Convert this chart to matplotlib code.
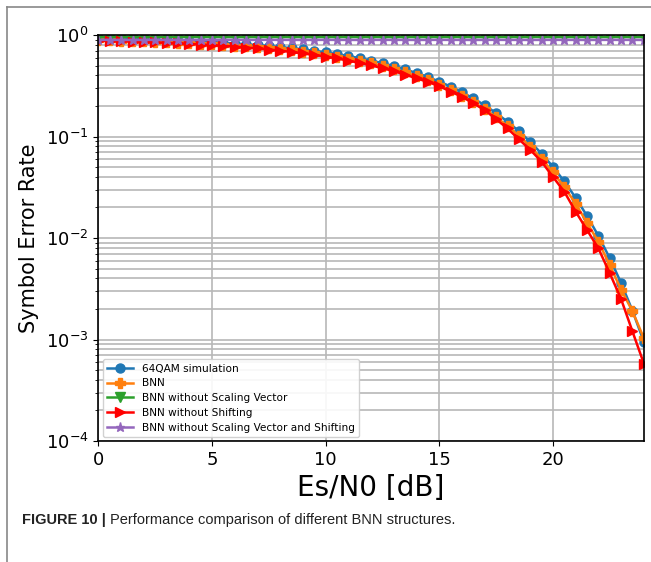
import matplotlib
matplotlib.use("Agg")
import matplotlib.pyplot as plt
from matplotlib.lines import Line2D
import numpy as np

# Es/N0 axis (dB)
snr_db = np.arange(0, 24.5, 0.5)

ser_sim = [0.924, 0.919, 0.913, 0.908, 0.901, 0.894, 0.887, 0.878, 0.869, 0.859,
           0.849, 0.837, 0.824, 0.810, 0.795, 0.778, 0.761, 0.741, 0.720, 0.698,
           0.674, 0.648, 0.621, 0.591, 0.560, 0.528, 0.494, 0.458, 0.422, 0.385,
           0.348, 0.310, 0.273, 0.237, 0.203, 0.170, 0.140, 0.113, 0.0886, 0.0678,
           0.0503, 0.0361, 0.0249, 0.0165, 0.0105, 0.00633, 0.00360, 0.00192, 0.00095]

ser_bnn = [0.890, 0.885, 0.880, 0.874, 0.867, 0.860, 0.852, 0.843, 0.834, 0.824,
           0.813, 0.801, 0.788, 0.774, 0.759, 0.742, 0.725, 0.705, 0.684, 0.662,
           0.638, 0.612, 0.585, 0.556, 0.526, 0.495, 0.462, 0.428, 0.393, 0.357,
           0.322, 0.286, 0.251, 0.218, 0.186, 0.155, 0.127, 0.102, 0.0795, 0.0605,
           0.0445, 0.0318, 0.0218, 0.0141, 0.0092, 0.0054, 0.0031, 0.0019, 0.00103]

ser_no_scale = [0.955, 0.955, 0.956, 0.955, 0.955, 0.954, 0.955, 0.955, 0.956, 0.955,
                0.955, 0.955, 0.954, 0.955, 0.955, 0.956, 0.955, 0.955, 0.955, 0.954,
                0.955, 0.955, 0.956, 0.955, 0.955, 0.955, 0.954, 0.955, 0.955, 0.956,
                0.955, 0.955, 0.955, 0.954, 0.955, 0.955, 0.956, 0.955, 0.955, 0.955,
                0.954, 0.955, 0.955, 0.956, 0.955, 0.955, 0.955, 0.954, 0.955]

ser_no_shift = [0.880, 0.874, 0.867, 0.861, 0.853, 0.845, 0.837, 0.827, 0.817, 0.806,
                0.795, 0.782, 0.768, 0.753, 0.737, 0.719, 0.701, 0.681, 0.659, 0.637,
                0.613, 0.587, 0.560, 0.531, 0.502, 0.471, 0.440, 0.407, 0.374, 0.345,
                0.313, 0.277, 0.246, 0.212, 0.182, 0.148, 0.120, 0.094, 0.074, 0.0565,
                0.040, 0.0286, 0.0182, 0.0120, 0.0079, 0.0045, 0.0025, 0.0012, 0.00058]

ser_no_both = [0.895, 0.896, 0.895, 0.894, 0.895, 0.896, 0.895, 0.895, 0.894, 0.895,
               0.896, 0.895, 0.895, 0.894, 0.895, 0.896, 0.895, 0.895, 0.894, 0.895,
               0.896, 0.895, 0.895, 0.894, 0.895, 0.896, 0.895, 0.895, 0.894, 0.895,
               0.896, 0.895, 0.895, 0.894, 0.895, 0.896, 0.895, 0.895, 0.894, 0.895,
               0.896, 0.895, 0.895, 0.894, 0.895, 0.896, 0.895, 0.895, 0.894]

labels = ["64QAM simulation", "BNN", "BNN without Scaling Vector",
          "BNN without Shifting", "BNN without Scaling Vector and Shifting"]

fig = plt.figure(figsize=(6.51, 5.62), dpi=100)
ax = fig.add_axes([0.1513, 0.2153, 0.8377, 0.7224])

ax.plot(snr_db, ser_sim, marker='o', color='tab:blue', lw=1.8, ms=6.5, label=labels[0])
ax.plot(snr_db, ser_bnn, marker='P', color='tab:orange', lw=1.8, ms=6.5, label=labels[1])
ax.plot(snr_db, ser_no_scale, marker='v', color='tab:green', lw=1.8, ms=6.5, label=labels[2])
ax.plot(snr_db, ser_no_shift, marker='>', color='red', lw=1.8, ms=6.5, label=labels[3])
ax.plot(snr_db, ser_no_both, marker='*', color='tab:purple', lw=1.8, ms=6.5, label=labels[4])

ax.set_yscale('log')
ax.set_xlim(0, 24)
ax.set_ylim(1e-4, 1)
ax.set_xticks([0, 5, 10, 15, 20])
ax.grid(True, which='major', color='#b8b8b8', lw=1.2)
ax.grid(True, which='minor', axis='y', color='#b8b8b8', lw=1.2)
ax.tick_params(labelsize=13)
for s in ax.spines.values():
    s.set_linewidth(1.2)

ax.set_xlabel("Es/N0 [dB]", fontsize=20, labelpad=4)
ax.set_ylabel("Symbol Error Rate", fontsize=15, labelpad=5)

ax.legend(loc='lower left', fontsize=7.6, handlelength=2.5, labelspacing=0.45,
          framealpha=0.9, borderaxespad=0.4)

# frame lines of the figure panel
fig.add_artist(Line2D([7 / 651, 7 / 651], [0, 1 - 7 / 562], color='#888888', lw=1.2))
fig.add_artist(Line2D([7 / 651, 1], [1 - 7 / 562, 1 - 7 / 562], color='#888888', lw=1.2))

# caption: bold part then normal part right after it
cap_y = 1 - 520 / 562
t1 = fig.text(22 / 651, cap_y, "FIGURE 10 |", fontsize=10.5, fontweight='bold',
              family='Liberation Sans', va='center', ha='left', color='#222222')
fig.canvas.draw()
bb = t1.get_window_extent(renderer=fig.canvas.get_renderer())
fig.text((bb.x1 + 4) / 651, cap_y, "Performance comparison of different BNN structures.",
         fontsize=10.5, family='Liberation Sans', va='center', ha='left', color='#222222')

fig.savefig("out.png", dpi=100)
